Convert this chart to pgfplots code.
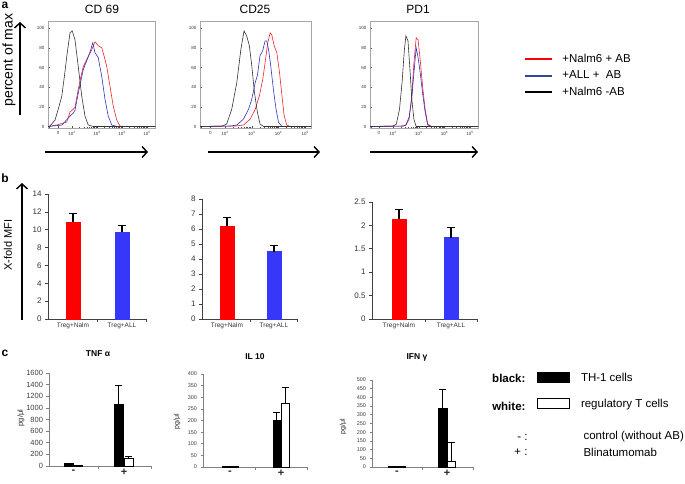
\documentclass[border=0pt]{standalone}
\usepackage{pgfplots}
\pgfplotsset{compat=1.18}
\usepackage{fontspec}
\setmainfont{Liberation Sans}
\usetikzlibrary{arrows.meta}
\definecolor{hred}{RGB}{235,35,45}
\definecolor{hblue}{RGB}{50,50,190}
\definecolor{lblue}{RGB}{45,75,150}
\definecolor{bred}{RGB}{255,0,0}
\definecolor{bblue}{RGB}{55,55,250}
\newcommand{\fs}[1]{\fontsize{#1}{#1}\selectfont}
\pgfkeys{/pgf/number format/.cd, assume math mode=true, 1000 sep={}}
\pgfplotsset{
  hist/.style={scale only axis, height=107pt, ymin=-1, ymax=107,
    axis line style={draw=gray!70, line width=0.7pt},
    tick pos=left, tick align=inside,
    ytick={0,20,...,100}, minor y tick num=3,
    xtick={1.45,2,3,4,5},
    xticklabels={0,10\textsuperscript{2},10\textsuperscript{3},10\textsuperscript{4},10\textsuperscript{5}},
    minor xtick={2.301,2.477,2.602,2.699,2.778,2.845,2.903,2.954,3.301,3.477,3.602,3.699,3.778,3.845,3.903,3.954,4.301,4.477,4.602,4.699,4.778,4.845,4.903,4.954},
    major tick length=2pt, minor tick length=1.2pt,
    every tick/.style={black!70, line width=0.4pt},
    tick label style={font=\fs{4.5}, text=black!80}},
  barb/.style={scale only axis, axis x line*=bottom, axis y line*=left,
    axis line style={black!75, line width=0.7pt},
    tick align=outside, major tick length=3pt,
    every tick/.style={black!75, line width=0.7pt},
    yticklabel style={font=\fs{8}, text=black!80},
    xticklabels={}, extra x ticks={1,2}, extra x tick labels={Treg+Nalm,Treg+ALL},
    extra x tick style={major tick length=0pt, tick label style={font=\fs{6.5}, text=black!80}},
    ymin=0,
    error bars/error bar style={draw=black, line width=1.2pt},
    error bars/error mark options={draw=black, line width=1.2pt, mark size=4pt, rotate=90}},
  barc/.style={scale only axis, axis x line*=bottom, axis y line*=left,
    axis line style={gray, line width=0.8pt},
    tick align=outside, major tick length=2.5pt,
    every tick/.style={gray, line width=0.7pt},
    xticklabels={}, extra x ticks={1,2}, extra x tick labels={-,+},
    extra x tick style={major tick length=0pt, tick label style={font=\fs{11}\bfseries, text=black!85}},
    ymin=0,
    error bars/error bar style={draw=black, line width=1pt},
    error bars/error mark options={draw=black, line width=1pt, mark size=3.5pt, rotate=90}},
}
\begin{document}
\begin{tikzpicture}
\useasboundingbox (0pt,0pt) rectangle (685pt,-484pt);
% ---------------- panel a ----------------
\node[font=\fs{12}\bfseries] at (5pt,-5pt) {a};
\node[font=\fs{12}] at (102pt,-9pt) {CD 69};
\node[font=\fs{12}] at (255pt,-9pt) {CD25};
\node[font=\fs{12}] at (418pt,-9pt) {PD1};
\node[font=\fs{14}, rotate=90] at (9pt,-60pt) {percent of max};
\draw[line width=1.4pt, -{Straight Barb[length=5pt,width=11pt,line width=1.4pt]}] (20pt,-115pt) -- (20pt,-22pt);
\draw[line width=1.4pt, -{Straight Barb[length=5pt,width=11pt,line width=1.4pt]}] (45pt,-152pt) -- (148pt,-152pt);
\draw[line width=1.4pt, -{Straight Barb[length=5pt,width=11pt,line width=1.4pt]}] (208pt,-152pt) -- (320pt,-152pt);
\draw[line width=1.4pt, -{Straight Barb[length=5pt,width=11pt,line width=1.4pt]}] (370pt,-152pt) -- (478pt,-152pt);

\begin{axis}[hist, at={(48pt,-128pt)}, anchor=south west, width=107pt, xmin=1.04, xmax=5.32]
\addplot[hred, line width=0.6pt, mark=none] coordinates {(1.04,0.5) (1.39,2) (1.79,5) (1.92,15) (2.05,18) (2.12,20) (2.25,38) (2.35,50) (2.45,61) (2.59,68) (2.79,78) (2.92,86) (2.96,85) (3.05,82) (3.12,81) (3.19,80) (3.28,72) (3.39,61) (3.52,41) (3.65,21) (3.79,7) (3.92,1) (4.1,0.5) (5.32,0.5)};
\addplot[hblue, line width=0.6pt, mark=none] coordinates {(1.04,0.5) (1.6,2) (1.92,11) (2.05,14) (2.12,17) (2.25,34) (2.45,58) (2.65,71) (2.75,78) (2.83,85) (2.92,75) (3.05,70) (3.19,51) (3.32,28) (3.45,11) (3.59,2) (3.8,0.5) (5.32,0.5)};
\addplot[black!80, line width=0.6pt, mark=none] coordinates {(1.04,0.5) (1.12,1) (1.32,7) (1.45,18) (1.59,31) (1.7,52) (1.79,71) (1.92,95) (2.01,97) (2.12,88) (2.25,61) (2.39,31) (2.52,11) (2.65,2) (2.85,0.5) (5.32,0.5)};
\end{axis}

\begin{axis}[hist, at={(200pt,-128pt)}, anchor=south west, width=111pt, xmin=1.06, xmax=5.22]
\addplot[hred, line width=0.6pt, mark=none] coordinates {(1.06,0.5) (2.4,1) (2.69,2) (2.94,8) (3.13,18) (3.29,32) (3.41,48) (3.5,65) (3.6,85) (3.69,95) (3.75,93) (3.84,82) (3.94,75) (4.04,55) (4.13,32) (4.21,12) (4.31,2) (4.44,0.5) (5.22,0.5)};
\addplot[hblue, line width=0.6pt, mark=none] coordinates {(1.06,0.5) (2.2,1) (2.44,2) (2.69,8) (2.88,18) (3.0,28) (3.13,45) (3.21,52) (3.31,72) (3.41,77) (3.5,87) (3.56,87) (3.63,78) (3.71,62) (3.81,38) (3.91,18) (4.0,5) (4.13,0.5) (5.22,0.5)};
\addplot[black!80, line width=0.6pt, mark=none] coordinates {(1.06,0.5) (1.9,1) (2.06,3) (2.25,18) (2.44,45) (2.59,78) (2.71,97) (2.81,92) (2.91,82) (3.0,62) (3.1,35) (3.21,15) (3.31,3) (3.44,0.5) (5.22,0.5)};
\end{axis}

\begin{axis}[hist, at={(370pt,-128pt)}, anchor=south west, width=108pt, xmin=1.10, xmax=5.31,
  legend style={at={(1.40,0.73)}, anchor=north west, draw=none, fill=none, font=\fs{11.5}, row sep=3pt,
    /tikz/every odd column/.append style={column sep=7pt}}, legend cell align=left]
\addplot[hred, line width=0.6pt, mark=none, forget plot] coordinates {(1.1,0.5) (2.4,1) (2.5,2) (2.625,8) (2.725,31) (2.81,64) (2.9,90) (2.975,88) (3.06,67) (3.15,41) (3.25,18) (3.35,3) (3.5,0.5) (5.31,0.5)};
\addplot[hblue, line width=0.6pt, mark=none, forget plot] coordinates {(1.1,0.5) (2.4,1) (2.5,2) (2.625,10) (2.725,28) (2.81,54) (2.9,80) (2.975,70) (3.06,54) (3.15,34) (3.25,15) (3.35,2) (3.5,0.5) (5.31,0.5)};
\addplot[black!80, line width=0.6pt, mark=none, forget plot] coordinates {(1.1,0.5) (2.0,1) (2.125,3) (2.25,18) (2.35,45) (2.44,78) (2.5,92) (2.58,87) (2.65,61) (2.73,28) (2.81,8) (2.9,0.5) (5.31,0.5)};
\addlegendimage{legend image code/.code={\draw[bred, line width=2pt] (0pt,0pt) -- (27pt,0pt);}}
\addlegendentry{+Nalm6 + AB}
\addlegendimage{legend image code/.code={\draw[lblue, line width=2pt] (0pt,0pt) -- (27pt,0pt);}}
\addlegendentry{+ALL +\ \ AB}
\addlegendimage{legend image code/.code={\draw[black, line width=2pt] (0pt,0pt) -- (27pt,0pt);}}
\addlegendentry{+Nalm6 -AB}
\end{axis}

% ---------------- panel b ----------------
\node[font=\fs{12}\bfseries] at (5pt,-178pt) {b};
\node[font=\fs{11}, rotate=90] at (8pt,-245pt) {X-fold MFI};
\draw[line width=1.4pt, -{Straight Barb[length=5pt,width=11pt,line width=1.4pt]}] (22pt,-320pt) -- (22pt,-183pt);

\begin{axis}[barb, at={(48pt,-319pt)}, anchor=south west, width=98pt, height=125pt, ymax=14, ytick={0,2,...,14}, xmin=0.49, xmax=2.49, xtick={1.5,2.49}]
\addplot[ybar, bar width=14pt, bar shift=0pt, fill=bred, draw=bred, error bars/.cd, y dir=plus, y explicit] coordinates {(1,10.85) +- (0,0.95)};
\addplot[ybar, bar width=14pt, bar shift=0pt, fill=bblue, draw=bblue, error bars/.cd, y dir=plus, y explicit] coordinates {(2,9.75) +- (0,0.75)};
\end{axis}

\begin{axis}[barb, at={(202pt,-319pt)}, anchor=south west, width=95pt, height=120pt, ymax=8, ytick={0,1,...,8}, xmin=0.47, xmax=2.49, xtick={1.5,2.49}]
\addplot[ybar, bar width=14pt, bar shift=0pt, fill=bred, draw=bred, error bars/.cd, y dir=plus, y explicit] coordinates {(1,6.17) +- (0,0.6)};
\addplot[ybar, bar width=14pt, bar shift=0pt, fill=bblue, draw=bblue, error bars/.cd, y dir=plus, y explicit] coordinates {(2,4.5) +- (0,0.4)};
\end{axis}

\begin{axis}[barb, at={(372pt,-319pt)}, anchor=south west, width=105pt, height=117pt, ymax=2.5, ytick={0,0.5,...,2.5}, xmin=0.48, xmax=2.5, xtick={1.5,2.5}]
\addplot[ybar, bar width=14pt, bar shift=0pt, fill=bred, draw=bred, error bars/.cd, y dir=plus, y explicit] coordinates {(1,2.14) +- (0,0.2)};
\addplot[ybar, bar width=14pt, bar shift=0pt, fill=bblue, draw=bblue, error bars/.cd, y dir=plus, y explicit] coordinates {(2,1.74) +- (0,0.22)};
\end{axis}

% ---------------- panel c ----------------
\node[font=\fs{12}\bfseries] at (5pt,-353pt) {c};
\node[font=\fs{8.5}\bfseries] at (98pt,-354pt) {TNF α};
\node[font=\fs{8.5}\bfseries] at (255pt,-357pt) {IL 10};
\node[font=\fs{8.5}\bfseries] at (417pt,-357pt) {IFN γ};
\node[font=\fs{7.5}, rotate=90, text=black!85] at (21pt,-418pt) {pg/μl};
\node[font=\fs{7}, rotate=90, text=black!85] at (177pt,-422pt) {pg/μl};
\node[font=\fs{7}, rotate=90, text=black!85] at (343pt,-427pt) {pg/μl};

\begin{axis}[barc, at={(49pt,-466pt)}, anchor=south west, width=102pt, height=93pt, ymax=1600, ytick={0,200,...,1600}, xmin=0.515, xmax=2.535, xtick={1.5,2.535},
  yticklabel style={font=\fs{7.5}, text=black!75}]
\addplot[ybar, bar width=9pt, bar shift=0pt, fill=black, draw=black] coordinates {(0.901,40)};
\addplot[ybar, bar width=9pt, bar shift=0pt, fill=white, draw=black, line width=1pt] coordinates {(1.099,15)};
\addplot[ybar, bar width=9pt, bar shift=0pt, fill=black, draw=black, error bars/.cd, y dir=plus, y explicit] coordinates {(1.901,1063) +- (0,326)};
\addplot[ybar, bar width=9pt, bar shift=0pt, fill=white, draw=black, line width=1pt, error bars/.cd, y dir=plus, y explicit] coordinates {(2.099,131) +- (0,40)};
\end{axis}

\begin{axis}[barc, at={(203pt,-467pt)}, anchor=south west, width=104pt, height=93pt, ymax=400, ytick={0,50,...,400}, xmin=0.47, xmax=2.51, xtick={1.5,2.51},
  yticklabel style={font=\fs{5.5}, text=black!75}]
\addplot[ybar, bar width=8pt, bar shift=0pt, fill=black, draw=black] coordinates {(0.92,3)};
\addplot[ybar, bar width=8pt, bar shift=0pt, fill=white, draw=black, line width=1pt] coordinates {(1.08,3)};
\addplot[ybar, bar width=8pt, bar shift=0pt, fill=black, draw=black, error bars/.cd, y dir=plus, y explicit] coordinates {(1.92,202) +- (0,33)};
\addplot[ybar, bar width=8pt, bar shift=0pt, fill=white, draw=black, line width=1pt, error bars/.cd, y dir=plus, y explicit] coordinates {(2.08,271) +- (0,72)};
\end{axis}

\begin{axis}[barc, at={(372pt,-467pt)}, anchor=south west, width=101pt, height=87pt, ymax=500, ytick={0,50,...,500}, xmin=0.5, xmax=2.52, xtick={1.5,2.52},
  yticklabel style={font=\fs{5.5}, text=black!75},
  legend style={at={(1.60,1.13)}, anchor=north west, draw=none, fill=none, font=\fs{11.5}, row sep=12pt,
    /tikz/every odd column/.append style={column sep=9pt}}, legend cell align=left]
\addplot[ybar, bar width=8.5pt, bar shift=0pt, fill=black, draw=black, forget plot] coordinates {(0.91,3)};
\addplot[ybar, bar width=8.5pt, bar shift=0pt, fill=white, draw=black, line width=1pt, forget plot] coordinates {(1.09,3)};
\addplot[ybar, bar width=8.5pt, bar shift=0pt, fill=black, draw=black, forget plot, error bars/.cd, y dir=plus, y explicit] coordinates {(1.91,337) +- (0,109)};
\addplot[ybar, bar width=8.5pt, bar shift=0pt, fill=white, draw=black, line width=1pt, forget plot, error bars/.cd, y dir=plus, y explicit] coordinates {(2.09,30) +- (0,110)};
\addlegendimage{legend image code/.code={\draw[fill=black, draw=black, line width=1.2pt] (0pt,-5pt) rectangle (32pt,5pt);}}
\addlegendentry{TH-1 cells}
\addlegendimage{legend image code/.code={\draw[fill=white, draw=black, line width=1.2pt] (0pt,-5pt) rectangle (32pt,5pt);}}
\addlegendentry{regulatory T cells}
\end{axis}

\node[font=\fs{11.5}\bfseries, anchor=east] at (529pt,-378pt) {black:};
\node[font=\fs{11.5}\bfseries, anchor=east] at (529pt,-406pt) {white:};
\node[font=\fs{11.5}, anchor=east] at (531pt,-437pt) {- :};
\node[font=\fs{11.5}, anchor=east] at (531pt,-452pt) {+ :};
\node[font=\fs{11.5}, anchor=west] at (580pt,-437pt) {control (without AB)};
\node[font=\fs{11.5}, anchor=west] at (580pt,-452pt) {Blinatumomab};
\end{tikzpicture}
\end{document}
